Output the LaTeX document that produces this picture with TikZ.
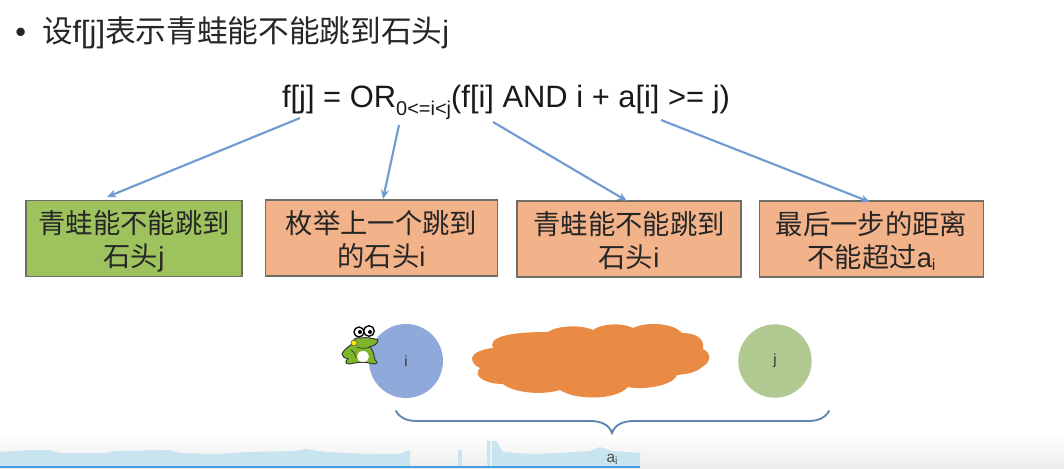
\documentclass[tikz,border=0pt]{standalone}
\usepackage{fontspec}
\setmainfont{Liberation Sans}
\newfontfamily\cjk{Noto Sans CJK SC}
\usetikzlibrary{arrows.meta}
\definecolor{grn}{HTML}{9DC25E}
\definecolor{org}{HTML}{F2B28A}
\definecolor{edgegrey}{HTML}{6E6E62}
\definecolor{arrowblue}{HTML}{6F9BD0}
\definecolor{cloudorg}{HTML}{E98A45}
\definecolor{circblue}{HTML}{8FA9DB}
\definecolor{circgreen}{HTML}{AFC990}
\definecolor{wave}{HTML}{C8E4EF}
\definecolor{frog}{HTML}{7DB52B}
\tikzset{
  box/.style={draw=edgegrey,line width=0.8pt,text=black!85,align=center,inner sep=0pt,font=\fontsize{20.5}{24.5}\selectfont},
  conn/.style={draw=arrowblue,line width=1.6pt,-{Stealth[length=7pt,width=6pt]}},
  brace/.style={draw=arrowblue!85!black,line width=1.4pt,line cap=round},
  stone/.style={circle,inner sep=0pt,minimum size=55.5pt,text=black!80,font=\fontsize{11}{13}\selectfont}
}
% lowers a box's two lines of text inside its frame
\newcommand{\boxtext}[2]{\raisebox{-9pt}[0pt][0pt]{\begin{tabular}{@{}c@{}}#1\\[0.3pt]#2\end{tabular}}}
\begin{document}
\begin{tikzpicture}[x=0.75pt,y=-0.75pt]
\useasboundingbox (0,0) rectangle (1064,468);
\fill[white] (0,0) rectangle (1064,468);
\shade[top color=white,bottom color=black!7] (0,432) rectangle (1064,468);
% water strip
\fill[wave] (0,452) -- (30,450) -- (50,450) -- (60,453) -- (105,453) -- (115,451) -- (170,450) -- (180,453) -- (215,454) -- (250,452) -- (295,451) -- (306,449) -- (325,452) -- (370,454) -- (400,454) -- (410,450) -- (410,467) -- (0,467) -- cycle;
\fill[wave] (458,450) rectangle (462,467);
\fill[wave] (487,441) rectangle (490,467);
\fill[wave] (492,441) -- (496,441) -- (503,452) -- (530,454) -- (560,453) -- (590,451) -- (600,447) -- (612,451) -- (640,453) -- (640,467) -- (492,467) -- cycle;
\fill[white!60!wave] (490,441) rectangle (492,467);
\draw[color=cyan!70!blue!75,line width=1.5pt] (0,467.2) -- (640,467.2);
% title
\node[anchor=west,inner sep=0pt,text=black!85,font=\fontsize{23}{27}\selectfont] (title) at (15,32.5) {•\hspace{12pt}{\cjk 设}f[j]{\cjk 表示青蛙能不能跳到石头}j};
% formula
\node[anchor=base,inner sep=0pt,text=black!90,font=\fontsize{23.15}{27}\selectfont] (formula) at (506,107) {f[j] = OR\raisebox{-6pt}{\fontsize{15}{17}\selectfont 0<=i<j}(f[i] AND i + a[i] >= j)};
% boxes
\node[box,fill=grn,minimum width=162pt,minimum height=56.5pt] (b1) at (134,238.5) {\boxtext{{\cjk 青蛙能不能跳到}}{{\cjk 石头}j}};
\node[box,fill=org,minimum width=174.5pt,minimum height=57pt] (b2) at (381.5,238) {\boxtext{{\cjk 枚举上一个跳到}}{{\cjk 的石头}i}};
\node[box,fill=org,minimum width=168pt,minimum height=57pt] (b3) at (629,239) {\boxtext{{\cjk 青蛙能不能跳到}}{{\cjk 石头}i}};
\node[box,fill=org,minimum width=168.5pt,minimum height=57pt] (b4) at (871.5,239) {\boxtext{{\cjk 最后一步的距离}}{{\cjk 不能超过}a\raisebox{-2pt}{\fontsize{12}{14}\selectfont i}}};
% connectors
\coordinate (s1) at (300,118);
\coordinate (s2) at (399,125);
\coordinate (s3) at (493,122);
\coordinate (s4) at (661,120);
\coordinate (e1) at (107,197);
\coordinate (e2) at (383,199);
\coordinate (e3) at (627,201);
\coordinate (e4) at (870,202);
\draw[conn] (s1) -- (e1);
\draw[conn] (s2) -- (e2);
\draw[conn] (s3) -- (e3);
\draw[conn] (s4) -- (e4);
% stones
\node[stone,fill=circblue] (si) at (406,361) {i};
\node[stone,fill=circgreen,minimum size=55pt] (sj) at (775,361) {j};
% cloud
\fill[cloudorg] (472,358)
 .. controls (473,353) and (482,349) .. (493,348)
 .. controls (488,338) and (505,332) .. (548,332)
 .. controls (556,326) and (580,324) .. (593,330)
 .. controls (600,324) and (622,322) .. (633,328)
 .. controls (645,322) and (672,322) .. (682,333)
 .. controls (695,333) and (705,338) .. (703,349)
 .. controls (711,352) and (712,362) .. (702,367)
 .. controls (697,372) and (688,374) .. (677,375)
 .. controls (672,387) and (640,390) .. (628,387)
 .. controls (615,401) and (575,400) .. (560,390)
 .. controls (540,396) and (512,392) .. (503,384)
 .. controls (485,384) and (472,376) .. (480,368)
 .. controls (475,366) and (472,362) .. (472,358) -- cycle;
% frog
\fill[frog,draw=black!80,line width=0.7pt] (342,354) .. controls (344,349) and (349,347) .. (353,343) .. controls (353,339) and (356,337) .. (361,338) .. controls (366,337) and (373,338) .. (378,340) .. controls (378,344) and (373,346) .. (370,347) .. controls (374,351) and (374,357) .. (375,360) .. controls (378,362) and (377,364) .. (375,364) -- (366,362.5) -- (358,362.5) -- (349,364) .. controls (345,364) and (345,361) .. (348,359) .. controls (345,358) and (342,357) .. (342,354) -- cycle;
\fill[white] (363,356.5) ellipse (6 and 5.5);
\draw[black!80,line width=0.5pt] (356,358) .. controls (355,354) and (354,351) .. (351,350);
\draw[black!80,line width=0.5pt] (357,347) .. controls (362,349) and (367,349) .. (371,346);
\fill[yellow!90!orange,draw=black!70,line width=0.4pt] (354,343) circle (3);
\fill[white,draw=black,line width=1pt] (359,332) circle (5);
\fill[white,draw=black,line width=1pt] (369,331) circle (5.3);
\fill[black] (360,332) circle (2);
\fill[black] (370,332) circle (2);
% brace
\coordinate (bl) at (396,411);
\coordinate (bm) at (612,433);
\coordinate (br) at (829,411);
\draw[brace] (bl) .. controls (400,418) and (407,421) .. (417,421) -- (590,421) .. controls (600,421) and (609,424) .. (bm) .. controls (615,424) and (624,421) .. (634,421) -- (808,421) .. controls (818,421) and (825,418) .. (br);
% label
\node[anchor=base,inner sep=0pt,text=black!70,font=\fontsize{11.5}{13}\selectfont] (ai) at (612,462) {a\raisebox{-2pt}{\fontsize{8}{9}\selectfont i}};
\end{tikzpicture}
\end{document}
